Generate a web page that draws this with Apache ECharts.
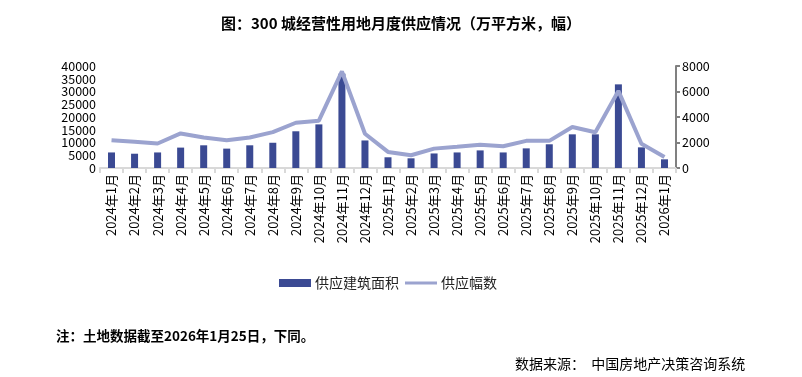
<!DOCTYPE html>
<html>
<head>
<meta charset="utf-8">
<script src="https://cdn.jsdelivr.net/npm/echarts@6/dist/echarts.min.js"></script>
<style>
  html, body { margin: 0; padding: 0; background: #fff; }
  #main { width: 802px; height: 377px; }
</style>
</head>
<body>
<div id="main"></div>
<script>
// 月份
const months = [
    '2024年1月', '2024年2月', '2024年3月', '2024年4月', '2024年5月', '2024年6月',
    '2024年7月', '2024年8月', '2024年9月', '2024年10月', '2024年11月', '2024年12月',
    '2025年1月', '2025年2月', '2025年3月', '2025年4月', '2025年5月', '2025年6月',
    '2025年7月', '2025年8月', '2025年9月', '2025年10月', '2025年11月', '2025年12月',
    '2026年1月'
]
// 供应建筑面积（万平方米）
const areaData = [
    6100, 5600, 6100, 8000, 8900, 7600, 8900, 9900, 14400, 17100, 37000, 10800,
    4200, 3800, 5700, 6100, 6900, 6100, 7700, 9300, 13200, 13200, 32800, 8100,
    3400
]
// 供应幅数
const countData = [
    2180, 2050, 1920, 2710, 2390, 2180, 2390, 2810, 3550, 3710, 7580, 2690,
    1260, 1000, 1520, 1660, 1820, 1710, 2130, 2130, 3210, 2810, 6050, 1900,
    870
]

const font = '"Noto Sans CJK SC", sans-serif'
const chart = echarts.init(document.getElementById('main'))

chart.setOption({
    backgroundColor: '#ffffff',
    textStyle: { fontFamily: font },
    title: [
        {
            text: '图：300 城经营性用地月度供应情况（万平方米，幅）',
            left: 'center',
            top: 11,
            textStyle: { fontSize: 15, fontWeight: 'bold', color: '#000', fontFamily: font }
        },
        {
            text: '注：土地数据截至2026年1月25日，下同。',
            left: 51,
            top: 324,
            textStyle: { fontSize: 13.5, fontWeight: 'bold', color: '#000', fontFamily: font }
        },
        {
            text: '数据来源：  中国房地产决策咨询系统',
            left: 510,
            top: 352,
            textStyle: { fontSize: 14, fontWeight: 'normal', color: '#000', fontFamily: font }
        }
    ],
    legend: {
        top: 271,
        left: 274,
        itemWidth: 32,
        itemHeight: 8,
        itemGap: 6,
        textStyle: { fontSize: 14, color: '#222', padding: [0, 0, 0, -1] },
        data: [
            { name: '供应建筑面积', icon: 'rect' },
            { name: '供应幅数', icon: 'path://M0,0 L32,0 L32,3 L0,3 Z' }
        ]
    },
    grid: { left: 100, right: 126, top: 66, bottom: 209 },
    xAxis: {
        type: 'category',
        data: months,
        boundaryGap: true,
        axisLine: { lineStyle: { color: '#d9d9d9', width: 2 } },
        axisTick: { show: true, length: 5, lineStyle: { color: '#d9d9d9', width: 2 } },
        axisLabel: { interval: 0, rotate: 90, fontSize: 13, color: '#000', margin: 6 }
    },
    yAxis: [
        {
            type: 'value',
            min: 0,
            max: 40000,
            interval: 5000,
            axisLine: { show: false },
            axisTick: { show: false },
            splitLine: { show: false },
            axisLabel: { fontSize: 12.5, color: '#000', margin: 4, formatter: v => String(v) }
        },
        {
            type: 'value',
            min: 0,
            max: 8000,
            interval: 2000,
            position: 'right',
            axisLine: { show: true, lineStyle: { color: '#808080', width: 2 } },
            axisTick: { show: true, length: 4, lineStyle: { color: '#808080', width: 2 } },
            splitLine: { show: false },
            axisLabel: { fontSize: 12.5, color: '#000', margin: 6, formatter: v => String(v) }
        }
    ],
    series: [
        {
            name: '供应建筑面积',
            type: 'bar',
            data: areaData,
            barWidth: 7,
            itemStyle: { color: '#3b4a93' }
        },
        {
            name: '供应幅数',
            type: 'line',
            yAxisIndex: 1,
            data: countData,
            symbol: 'none',
            lineStyle: { color: '#9ba3cf', width: 4 },
            itemStyle: { color: '#9ba3cf' }
        }
    ]
})
</script>
</body>
</html>
